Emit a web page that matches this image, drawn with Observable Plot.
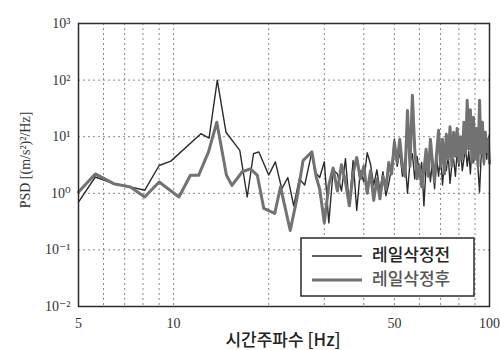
<!DOCTYPE html>
<html><head><meta charset="utf-8">
<script src="https://cdn.jsdelivr.net/npm/d3@7"></script>
<script src="https://cdn.jsdelivr.net/npm/@observablehq/plot@0.6"></script>
<style>body{margin:0;background:#fff;} #chart{width:500px;height:350px;}</style>
</head><body><div id="chart"></div>
<script>
// Series: PSD before rail grinding (dark thin line)
const freqBefore = [5, 5.65, 6.46, 7.3, 8.1, 9.0, 9.8, 12.2, 12.95, 13.75, 14.65, 16.2, 17.1, 17.9, 18.6, 20.0, 21.0,
  22, 23, 24, 25, 26, 27.4, 28, 29, 30, 31, 32, 33, 34, 35, 36, 37, 38, 39, 40, 41, 42, 43, 44, 45, 46, 47, 48, 49,
  50, 51, 52, 53, 54, 55, 56, 57, 58, 59, 60, 61, 62, 63, 64, 65, 66, 67, 68, 69, 70, 71, 72, 73, 74, 75,
  76, 77, 78, 79, 80, 81, 82, 83, 84, 85, 86, 87, 88, 89, 90, 91, 92, 93, 94, 95, 96, 97, 98, 99, 100];
const psdBefore = [0.7, 1.94, 1.48, 1.3, 1.13, 3.1, 3.7, 11.3, 9.4, 100, 12, 5.75, 0.86, 5.0, 5.4, 2.1, 3.6,
  1.2, 1.9, 0.6, 1.8, 1.4, 5.4, 2.4, 1.9, 3.6, 0.3, 2.6, 2.2, 1.1, 4.1, 0.6, 3.8, 0.5, 2.5, 1.6, 5.2, 3.3, 1.4, 2.6, 1.1, 2.4, 0.9, 1.5, 2.9,
  9.0, 3.0, 5.5, 2.0, 4.0, 1.0, 3.5, 5.0, 1.8, 4.5, 2.2, 3.5, 0.6, 3.0, 4.5, 1.6, 3.8, 1.2, 4.2, 2.0, 5.0, 1.4, 3.5, 2.5, 4.8, 1.5,
  3.2, 4.0, 2.0, 5.5, 3.0, 6.0, 2.5, 4.0, 6.5, 3.0, 5.5, 2.2, 7.0, 3.5, 4.8, 6.0, 2.6, 1.05, 4.0, 7.5, 3.2, 10, 4.0, 8.0, 11];

// Series: PSD after rail grinding (grey thick line)
const freqAfter = [5, 5.65, 6.46, 7.3, 8.1, 9.0, 10.4, 11.3, 12.0, 12.9, 13.7, 14.7, 15.3, 16.5, 17.5, 18.4, 19.3, 20.9, 21.8,
  23.4, 24.5, 25.7, 27.4, 28.3, 29, 30, 31, 32, 33, 34, 35, 36, 37, 38, 39, 40, 41, 42, 43, 44, 45, 46, 47, 48, 49,
  50, 51, 52, 53, 54, 55, 56, 57, 58, 59, 60, 61, 62, 63, 64, 65, 66, 67, 68, 69, 70, 71, 72, 73, 74, 75,
  76, 77, 78, 79, 80, 81, 82, 83, 84, 85, 86, 87, 88, 89, 90, 91, 92, 93, 94, 95, 96, 97, 98, 99, 100];
const psdAfter = [1.05, 2.2, 1.48, 1.29, 0.86, 1.58, 0.86, 2.08, 2.08, 5.4, 18, 2.08, 1.38, 2.4, 2.7, 2.1, 0.54, 0.44, 1.3,
  0.22, 0.75, 3.8, 5.4, 1.9, 1.2, 0.3, 1.4, 2.8, 1.1, 3.2, 1.6, 0.6, 2.2, 4.3, 1.8, 3.0, 1.0, 2.5, 0.75, 1.8, 0.8, 2.0, 1.2, 3.5, 2.2,
  8.0, 3.5, 9.0, 3.0, 2.0, 29, 3.0, 54, 6.0, 1.8, 3.0, 1.3, 2.5, 6.0, 2.0, 9.0, 3.5, 1.6, 5.0, 13, 3.0, 9.0, 2.2, 11, 4.0, 15,
  3.0, 12, 4.5, 14, 3.5, 10, 4.0, 18, 5.0, 44, 6.0, 30, 3.5, 22, 4.0, 14, 3.0, 44, 5.0, 18, 3.5, 12, 5.5, 9.0, 3.4];

const seriesNames = ["레일삭정전", "레일삭정후"];
const xTicks = [5, 10, 50, 100];
const xGrid = [6, 7, 8, 9, 10, 20, 30, 40, 50, 60, 70, 80, 90];
const yTicks = [0.01, 0.1, 1, 10, 100, 1000];
const yTickLabels = ["10⁻²", "10⁻¹", "10⁰", "10¹", "10²", "10³"];
const yGrid = [0.1, 1, 10, 100];
const xLabel = "시간주파수 [Hz]";
const yLabel = "PSD [(m/s²)²/Hz]";

const serif = "'Liberation Serif', 'DejaVu Serif', serif";
const before = freqBefore.map((f, i) => ({f, v: psdBefore[i]}));
const after = freqAfter.map((f, i) => ({f, v: psdAfter[i]}));

const chart = Plot.plot({
  width: 500, height: 350,
  marginLeft: 78, marginRight: 11, marginTop: 23, marginBottom: 44,
  style: {fontFamily: serif, fontSize: "14px", color: "#333", background: "#fff"},
  x: {type: "log", domain: [5, 100], ticks: xTicks, tickFormat: d => String(d), tickSize: 0, tickPadding: 12, label: null},
  y: {type: "log", domain: [0.01, 1000], ticks: yTicks, tickFormat: d => yTickLabels[yTicks.indexOf(d)], tickSize: 0, tickPadding: 8, label: null},
  marks: [
    Plot.ruleX(xGrid, {stroke: "#888", strokeDasharray: "2,3", strokeWidth: 1}),
    Plot.ruleY(yGrid, {stroke: "#888", strokeDasharray: "2,3", strokeWidth: 1}),
    Plot.line(before, {x: "f", y: "v", stroke: "#2b2b2b", strokeWidth: 1.4, strokeLinejoin: "round"}),
    Plot.line(after, {x: "f", y: "v", stroke: "#727272", strokeWidth: 3, strokeLinejoin: "round"}),
    Plot.frame({stroke: "#2a2a2a", strokeWidth: 1.5})
  ]
});

const svg = d3.select(chart);
svg.selectAll("g[aria-label$='tick label'], g[aria-label$='tick label'] text")
  .style("font-family", serif).style("font-size", "14px").style("font-variant", "normal");
svg.append("text")
  .attr("transform", "translate(27,160) rotate(-90)")
  .attr("text-anchor", "middle").attr("dominant-baseline", "middle")
  .attr("font-family", serif).attr("font-size", 14).attr("fill", "#333")
  .text(yLabel);
svg.append("text")
  .attr("x", 283).attr("y", 341)
  .attr("text-anchor", "middle").attr("dominant-baseline", "middle")
  .attr("font-family", "'Noto Sans CJK KR', sans-serif").attr("font-size", 17).attr("font-weight", 500).attr("fill", "#222")
  .text(xLabel);

const lg = svg.append("g").attr("text-anchor", "start");
lg.append("rect").attr("x", 301).attr("y", 238).attr("width", 173).attr("height", 58)
  .attr("fill", "#fff").attr("stroke", "#2a2a2a").attr("stroke-width", 1.5);
const legendStyles = [{stroke: "#2b2b2b", w: 1.4, fill: "#222", y: 256}, {stroke: "#727272", w: 3, fill: "#555", y: 280}];
seriesNames.forEach((name, i) => {
  const s = legendStyles[i];
  lg.append("line").attr("x1", 312).attr("x2", 362).attr("y1", s.y).attr("y2", s.y)
    .attr("stroke", s.stroke).attr("stroke-width", s.w);
  lg.append("text").attr("x", 372).attr("y", s.y).attr("dominant-baseline", "middle")
    .attr("text-anchor", "start")
    .attr("font-family", "'Noto Sans CJK KR', sans-serif").attr("font-size", 17).attr("font-weight", 500)
    .attr("fill", s.fill).text(name);
});

document.getElementById("chart").appendChild(chart);
</script>
</body></html>
